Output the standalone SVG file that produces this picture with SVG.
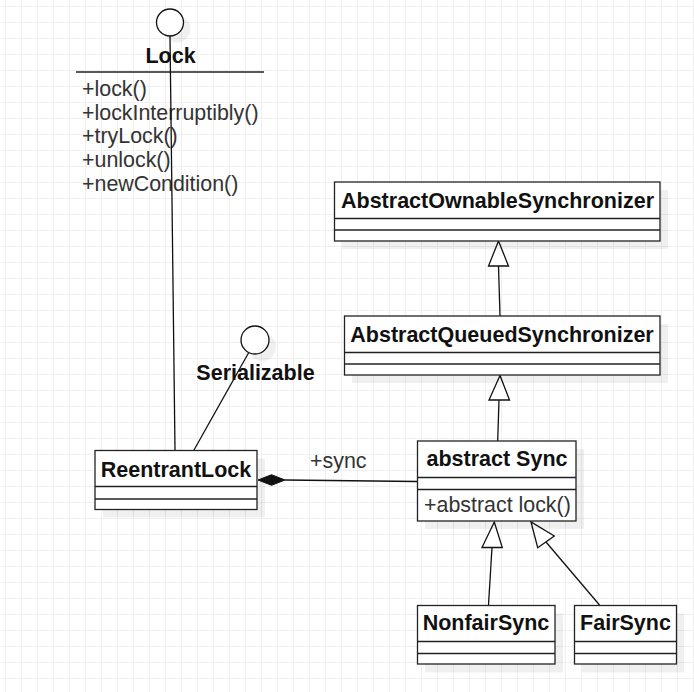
<svg xmlns="http://www.w3.org/2000/svg" width="694" height="692" viewBox="0 0 694 692">
<defs>
<pattern id="grid" x="5" y="6" width="16" height="16" patternUnits="userSpaceOnUse">
<path d="M0.5 0V16M0 0.5H16" fill="none" stroke="#efefef" stroke-width="1"/>
</pattern>
</defs>
<style>
.box{fill:#fff;stroke:#222;stroke-width:1.3}
.div{stroke:#222;stroke-width:1.3}
.sh{fill:#000;fill-opacity:0.06}
.t{font-family:"Liberation Sans",Arial,sans-serif;font-size:21.5px;font-weight:bold;fill:#111;text-anchor:middle}
.m{font-family:"Liberation Sans",Arial,sans-serif;font-size:21.4px;fill:#333}
.ln{fill:none;stroke:#111;stroke-width:1.3}
.arr{fill:#fff;stroke:#111;stroke-width:1.3}
</style>
<rect width="694" height="692" fill="#fff"/>
<rect width="694" height="692" fill="url(#grid)"/>

<g id="Lock">
<circle cx="177" cy="29" r="13.5" class="sh"/>
<circle cx="170" cy="22.5" r="13.5" fill="#fff" stroke="#111" stroke-width="1.3"/>
<text x="170.5" y="62.5" class="t">Lock</text>
<line x1="76" y1="72" x2="264" y2="72" class="div"/>
<text x="82" y="95.5" class="m">+lock()</text>
<text x="82" y="119.5" class="m">+lockInterruptibly()</text>
<text x="82" y="143" class="m">+tryLock()</text>
<text x="82" y="166.5" class="m">+unlock()</text>
<text x="82" y="190.5" class="m">+newCondition()</text>
</g>

<g id="Serializable">
<circle cx="262" cy="347" r="14" class="sh"/>
<circle cx="255" cy="340" r="14" fill="#fff" stroke="#111" stroke-width="1.3"/>
<text x="255.5" y="379.5" class="t">Serializable</text>
</g>

<g id="connectors">
<line x1="170" y1="36" x2="175" y2="450" class="ln"/>
<line x1="248.5" y1="353" x2="194" y2="450" class="ln"/>
<polygon points="258,480 271.5,474.7 285,480 271.5,485.3" fill="#111" stroke="#111" stroke-width="1"/>
<line x1="285" y1="480" x2="417" y2="481.5" class="ln"/>
<text x="310" y="467.5" class="m">+sync</text>
<line x1="498.5" y1="266" x2="500" y2="316" class="ln"/>
<polygon points="498.5,241 488.5,266 508.5,266" class="arr"/>
<line x1="499" y1="400" x2="497.7" y2="441" class="ln"/>
<polygon points="500,375.5 489,400 509.5,400" class="arr"/>
<line x1="492" y1="547.5" x2="488.5" y2="605" class="ln"/>
<polygon points="494.3,522 482,547.5 502.3,547.5" class="arr"/>
<line x1="546" y1="542" x2="599.5" y2="605" class="ln"/>
<polygon points="531,522 537.7,547.7 554.3,536" class="arr"/>
</g>

<g id="AbstractOwnableSynchronizer">
<rect x="342" y="190" width="326" height="59" class="sh"/>
<rect x="334.5" y="182" width="325.5" height="59" class="box"/>
<text x="497.5" y="207.5" class="t">AbstractOwnableSynchronizer</text>
<line x1="334.5" y1="218.5" x2="660" y2="218.5" class="div"/>
<line x1="334.5" y1="230" x2="660" y2="230" class="div"/>
</g>

<g id="AbstractQueuedSynchronizer">
<rect x="352" y="324" width="316" height="59" class="sh"/>
<rect x="344.5" y="316" width="315.5" height="59" class="box"/>
<text x="502" y="341.5" class="t">AbstractQueuedSynchronizer</text>
<line x1="344.5" y1="352.5" x2="660" y2="352.5" class="div"/>
<line x1="344.5" y1="364" x2="660" y2="364" class="div"/>
</g>

<g id="ReentrantLock">
<rect x="103" y="458.5" width="162" height="59" class="sh"/>
<rect x="95" y="450.5" width="162" height="59" class="box"/>
<text x="176" y="476.5" class="t">ReentrantLock</text>
<line x1="95" y1="486.5" x2="257" y2="486.5" class="div"/>
<line x1="95" y1="499" x2="257" y2="499" class="div"/>
</g>

<g id="Sync">
<rect x="425" y="449" width="159" height="80" class="sh"/>
<rect x="417.5" y="441" width="158.5" height="80" class="box"/>
<text x="497" y="466" class="t">abstract Sync</text>
<line x1="417.5" y1="477.5" x2="576" y2="477.5" class="div"/>
<line x1="417.5" y1="489.5" x2="576" y2="489.5" class="div"/>
<text x="424" y="511.5" class="m">+abstract lock()</text>
</g>

<g id="NonfairSync">
<rect x="425" y="613.5" width="138" height="59" class="sh"/>
<rect x="417.5" y="605.5" width="137.5" height="58.5" class="box"/>
<text x="486" y="630" class="t">NonfairSync</text>
<line x1="417.5" y1="641.5" x2="555" y2="641.5" class="div"/>
<line x1="417.5" y1="653.5" x2="555" y2="653.5" class="div"/>
</g>

<g id="FairSync">
<rect x="582" y="613.5" width="102" height="59" class="sh"/>
<rect x="574.5" y="605.5" width="102" height="58.5" class="box"/>
<text x="625.5" y="630" class="t">FairSync</text>
<line x1="574.5" y1="641.5" x2="676.5" y2="641.5" class="div"/>
<line x1="574.5" y1="653.5" x2="676.5" y2="653.5" class="div"/>
</g>
</svg>
